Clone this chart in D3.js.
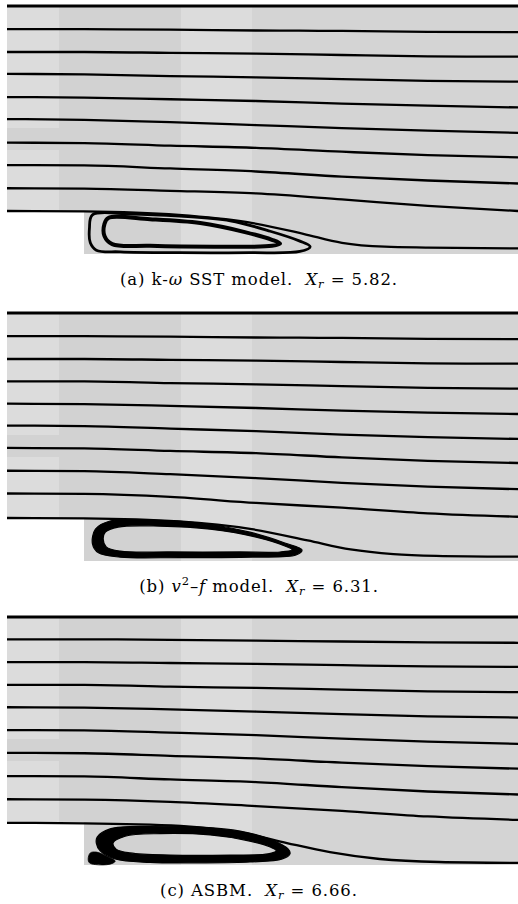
<!DOCTYPE html>
<html>
<head>
<meta charset="utf-8">
<script src="https://cdn.jsdelivr.net/npm/d3@7/dist/d3.min.js"></script>
<style>
  html, body { margin: 0; padding: 0; background: #fff; }
  svg { display: block; }
</style>
</head>
<body>
<script>
// Streamlines of the flow over a backward-facing step, one panel per turbulence model.
// Lengths are in step heights h: x = 0 at the step edge, y = 0 on the lower wall.

const models = ["k-omega SST", "v2-f", "ASBM"];
const reattachment = [5.82, 6.31, 6.66];

// x stations where the outer streamlines are sampled
const stations = [-1.8, 0, 2, 4, 6, 8, 10.1];

// outer streamlines, y at each station (top wall first)
const streamsSST = [
  [5.77, 5.77, 5.77, 5.77, 5.77, 5.77, 5.77],
  [5.23, 5.23, 5.22, 5.20, 5.19, 5.17, 5.16],
  [4.70, 4.70, 4.68, 4.66, 4.63, 4.60, 4.59],
  [4.19, 4.18, 4.14, 4.11, 4.07, 4.03, 4.01],
  [3.65, 3.64, 3.60, 3.56, 3.50, 3.45, 3.41],
  [3.14, 3.12, 3.07, 3.00, 2.93, 2.87, 2.82],
  [2.59, 2.58, 2.52, 2.47, 2.38, 2.30, 2.25],
  [2.07, 2.06, 1.99, 1.92, 1.80, 1.71, 1.64],
  [1.53, 1.52, 1.47, 1.41, 1.27, 1.12, 1.00]
];
const streamsV2F = [
  [5.77, 5.77, 5.77, 5.77, 5.77, 5.77, 5.77],
  [5.23, 5.23, 5.22, 5.20, 5.19, 5.17, 5.16],
  [4.70, 4.70, 4.68, 4.66, 4.63, 4.60, 4.59],
  [4.18, 4.18, 4.14, 4.11, 4.07, 4.03, 4.01],
  [3.66, 3.65, 3.61, 3.56, 3.50, 3.45, 3.42],
  [3.15, 3.14, 3.08, 3.02, 2.94, 2.88, 2.84],
  [2.63, 2.62, 2.56, 2.51, 2.41, 2.33, 2.28],
  [2.10, 2.09, 2.02, 1.93, 1.82, 1.73, 1.67],
  [1.57, 1.56, 1.49, 1.35, 1.24, 1.11, 1.03]
];
const streamsASBM = [
  [5.77, 5.77, 5.77, 5.77, 5.77, 5.77, 5.77],
  [5.25, 5.25, 5.24, 5.22, 5.20, 5.18, 5.17],
  [4.72, 4.72, 4.70, 4.68, 4.65, 4.62, 4.61],
  [4.19, 4.19, 4.15, 4.12, 4.08, 4.04, 4.02],
  [3.67, 3.66, 3.62, 3.57, 3.51, 3.46, 3.43],
  [3.14, 3.13, 3.08, 3.02, 2.94, 2.87, 2.82],
  [2.61, 2.60, 2.54, 2.48, 2.38, 2.30, 2.24],
  [2.07, 2.06, 1.99, 1.93, 1.81, 1.71, 1.64],
  [1.53, 1.52, 1.47, 1.37, 1.26, 1.13, 1.05]
];

// dividing streamline leaving the step corner, [x, y]
const dividingSST  = [[-1.8, 1.00], [0, 0.99], [2.2, 0.91], [3.8, 0.74], [5.1, 0.47], [6.0, 0.26], [7.0, 0.17], [8.0, 0.15], [10.1, 0.13]];
const dividingV2F  = [[-1.8, 1.00], [0, 0.99], [2.2, 0.92], [3.9, 0.74], [5.2, 0.48], [6.2, 0.27], [7.2, 0.16], [8.2, 0.12], [10.1, 0.10]];
const dividingASBM = [[-1.8, 0.98], [0, 0.97], [2.24, 0.91], [3.79, 0.72], [4.72, 0.51], [5.72, 0.30], [6.88, 0.14], [8.26, 0.07], [10.1, 0.05]];

// closed loops of the recirculation bubble, [x, y]
const bubbleSSTouter = [[0.19, 0.91], [1.07, 0.93], [2.23, 0.88], [3.40, 0.77], [4.33, 0.53], [5.02, 0.30], [5.26, 0.17],
  [5.02, 0.06], [3.86, 0.03], [2.23, 0.03], [0.84, 0.05], [0.28, 0.09], [0.14, 0.26], [0.12, 0.60]];
const bubbleSSTinner = [[0.56, 0.84], [1.53, 0.81], [2.70, 0.72], [3.74, 0.51], [4.37, 0.33], [4.56, 0.24], [4.37, 0.19],
  [3.16, 0.17], [1.53, 0.19], [0.65, 0.23], [0.47, 0.42], [0.47, 0.70]];

const bubbleV2Fouter = [[0.26, 0.74], [0.60, 0.93], [1.53, 0.95], [2.70, 0.88], [3.86, 0.67], [4.67, 0.42], [5.07, 0.26],
  [4.93, 0.14], [3.86, 0.09], [2.23, 0.08], [0.84, 0.09], [0.33, 0.19], [0.19, 0.40]];
const bubbleV2Finner = [[0.49, 0.67], [0.79, 0.79], [1.77, 0.81], [2.93, 0.74], [3.98, 0.56], [4.67, 0.35], [4.84, 0.26],
  [4.56, 0.21], [3.63, 0.21], [2.00, 0.21], [0.84, 0.23], [0.51, 0.33], [0.44, 0.51]];

const bubbleASBMouter = [[0.30, 0.65], [0.60, 0.84], [1.53, 0.90], [2.70, 0.88], [3.63, 0.79], [4.33, 0.60], [4.75, 0.37],
  [4.79, 0.26], [4.61, 0.14], [3.86, 0.07], [2.70, 0.05], [1.53, 0.06], [0.72, 0.14], [0.37, 0.33], [0.28, 0.51]];
const bubbleASBMinner = [[0.67, 0.51], [0.95, 0.67], [1.77, 0.73], [2.93, 0.70], [3.74, 0.58], [4.33, 0.42], [4.47, 0.33],
  [4.28, 0.26], [3.40, 0.23], [2.00, 0.23], [1.07, 0.28], [0.74, 0.37]];

// secondary corner eddy (ASBM only)
const cornerASBM = [[0.09, 0.14], [0.14, 0.28], [0.28, 0.30], [0.51, 0.21], [0.72, 0.09], [0.60, 0.02], [0.26, 0.01], [0.12, 0.05]];

// mesh blocks shown as grey tones: [x0, x1, y0, y1, tone]
const blocks = [
  [-1.8, -0.58, 1.0, 5.8, 0],
  [-1.8, -0.58, 2.42, 2.94, 1],
  [-0.58, 0.0, 1.0, 5.8, 1],
  [0.0, 2.26, 0.0, 5.8, 1],
  [2.26, 3.91, 0.0, 5.8, 0],
  [3.91, 10.1, 0.0, 5.8, 2]
];

const panels = [
  { streams: streamsSST, dividing: dividingSST, rings: [], loops: [bubbleSSTouter, bubbleSSTinner], corner: null,
    caption: [["(a) k-", ""], ["ω", "i"], [" SST model.  ", ""], ["X", "i"], ["r", "sub"], [" = 5.82.", ""]] },
  { streams: streamsV2F, dividing: dividingV2F, rings: [[bubbleV2Fouter, bubbleV2Finner]], loops: [], corner: null,
    caption: [["(b) ", ""], ["v", "i"], ["2", "sup"], ["–", ""], ["f", "i"], [" model.  ", ""], ["X", "i"], ["r", "sub"], [" = 6.31.", ""]] },
  { streams: streamsASBM, dividing: dividingASBM, rings: [[bubbleASBMouter, bubbleASBMinner]], loops: [], corner: cornerASBM,
    caption: [["(c) ASBM.  ", ""], ["X", "i"], ["r", "sub"], [" = 6.66.", ""]] }
];

// ---- layout and styling ----
const W = 518, H = 904;
const tones = ["#dcdcdc", "#d2d2d2", "#d4d4d4"];
const panelTop = [6, 313, 617];
const panelH = 248;
const captionGap = 279;

const svg = d3.select("body").append("svg").attr("width", W).attr("height", H);

const x = d3.scaleLinear().domain([-1.8, 10.1]).range([7, 518]);

panels.forEach((p, i) => {
  const y = d3.scaleLinear().domain([0, 5.77]).range([panelTop[i] + panelH, panelTop[i]]);
  const g = svg.append("g");

  g.selectAll("rect.block").data(blocks).join("rect")
    .attr("class", "block")
    .attr("x", d => x(d[0]))
    .attr("width", d => x(d[1]) - x(d[0]))
    .attr("y", d => y(d[3]))
    .attr("height", d => y(d[2]) - y(d[3]))
    .attr("fill", d => tones[d[4]])
    .attr("shape-rendering", "crispEdges");

  const stream = d3.line().x(d => x(d[0])).y(d => y(d[1])).curve(d3.curveMonotoneX);
  const loop = d3.line().x(d => x(d[0])).y(d => y(d[1])).curve(d3.curveCatmullRomClosed.alpha(0.5));

  // recirculation bubble
  p.rings.forEach(r => {
    g.append("path")
      .attr("d", loop(r[0]) + loop(r[1]))
      .attr("fill", "#000")
      .attr("fill-rule", "evenodd")
      .attr("stroke", "#000")
      .attr("stroke-width", 1.2);
  });
  p.loops.forEach((l, k) => {
    g.append("path")
      .attr("d", loop(l))
      .attr("fill", "none")
      .attr("stroke", "#000")
      .attr("stroke-width", k === 0 ? 2.8 : 4);
  });
  if (p.corner) {
    g.append("path").attr("d", loop(p.corner)).attr("fill", "#000").attr("stroke", "#000").attr("stroke-width", 0.8);
  }

  // outer streamlines
  g.selectAll("path.stream").data(p.streams).join("path")
    .attr("class", "stream")
    .attr("d", ys => stream(ys.map((v, k) => [stations[k], v])))
    .attr("fill", "none")
    .attr("stroke", "#000")
    .attr("stroke-width", (d, k) => k === 0 ? 2.8 : 2.3);

  g.append("path")
    .attr("d", stream(p.dividing))
    .attr("fill", "none")
    .attr("stroke", "#000")
    .attr("stroke-width", 2.3);

  // caption
  const t = svg.append("text")
    .attr("x", W / 2)
    .attr("y", panelTop[i] + captionGap)
    .attr("text-anchor", "middle")
    .attr("font-family", "'DejaVu Serif', serif")
    .attr("font-size", 16.5)
    .attr("letter-spacing", 0.9)
    .attr("fill", "#000")
    .style("white-space", "pre");
  let shift = 0;
  p.caption.forEach(([s, kind]) => {
    const ts = t.append("tspan").text(s);
    let target = 0;
    if (kind === "sub") { target = 3; ts.attr("font-size", 11.5).attr("font-style", "italic"); }
    else if (kind === "sup") { target = -7; ts.attr("font-size", 11.5); }
    else if (kind === "i") ts.attr("font-style", "italic");
    ts.attr("dy", target - shift);
    shift = target;
  });
});
</script>
</body>
</html>
